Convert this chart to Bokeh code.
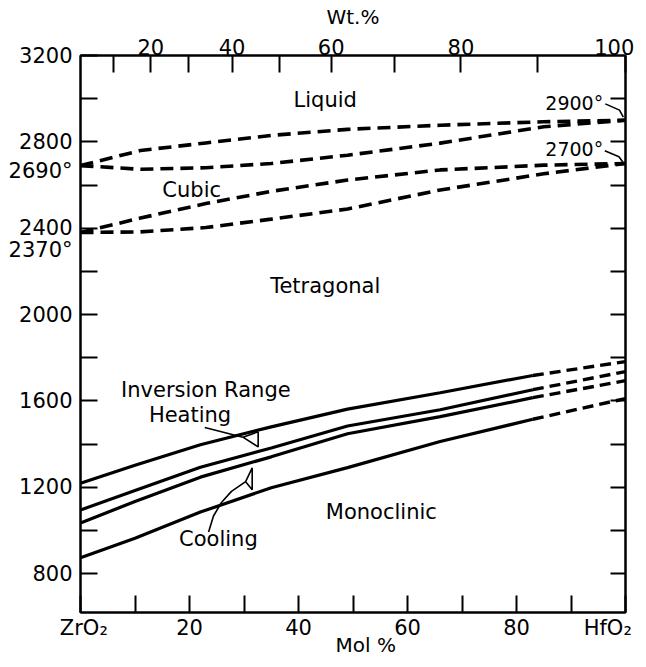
from bokeh.plotting import figure
from bokeh.models import LinearAxis, FixedTicker, Range1d, Label
from bokeh.embed import file_html
from bokeh.resources import INLINE

# ---------------- data (mol % HfO2 vs temperature, deg C) ----------------
MOL = [0, 11, 23, 35, 49, 66, 85, 100]
LIQUIDUS = [2690, 2760, 2795, 2830, 2858, 2877, 2893, 2900]
SOLIDUS = [2690, 2673, 2680, 2700, 2738, 2794, 2870, 2900]
CUBIC_UPPER = [2380, 2447, 2514, 2571, 2623, 2670, 2692, 2700]
CUBIC_LOWER = [2380, 2383, 2403, 2442, 2489, 2577, 2652, 2700]

INV_MOL = [0, 10, 22, 35, 49, 66, 83, 100]
HEAT_START = [1219, 1302, 1397, 1480, 1562, 1638, 1718, 1782]
HEAT_END = [1095, 1185, 1293, 1382, 1484, 1559, 1652, 1736]
COOL_START = [1035, 1134, 1247, 1341, 1448, 1527, 1615, 1694]
COOL_END = [874, 964, 1085, 1198, 1291, 1412, 1515, 1611]
N_SOLID = 7  # inversion curves are measured (solid) up to the 7th point

Y_TICKS = [800, 1000, 1200, 1400, 1600, 1800, 2000, 2200, 2400, 2600, 2800, 3000, 3200]
Y_LABELED = [800, 1200, 1600, 2000, 2400, 2800, 3200]
# melting / transformation points of ZrO2, written beside the left axis
LEFT_NOTES = {2667: "2690°", 2297: "2370°"}
MOL_TICKS = [0, 10, 20, 30, 40, 50, 60, 70, 80, 90, 100]
MOL_LABELED = [20, 40, 60, 80]
END_MEMBERS = {0: "\u00a0ZrO₂", 100: "HfO₂\u00a0"}
WT_VALUES = [10, 20, 30, 40, 50, 60, 70, 80, 90, 100]
WT_TICK_MOL = [6.0, 12.9, 19.8, 27.8, 36.6, 46.0, 57.7, 69.8, 83.8, 100]
WT_LABELED = [20, 40, 60, 80]

# annotation leaders (data units)
HEAT_LEADER = ([22.8, 29.8], [1477, 1432])
HEAT_BRACKET = ([32.6, 29.8, 32.6, 32.6], [1457, 1432, 1387, 1457])
COOL_LEADER = ([23.5, 24.4, 25.9, 27.7, 30.3], [993, 1067, 1131, 1181, 1226])
COOL_BRACKET = ([31.5, 30.3, 31.5, 31.5], [1290, 1226, 1189, 1290])
L2900 = ([96.3, 98.9, 99.6], [2976, 2947, 2915])
L2700 = ([96.2, 98.8, 99.6], [2759, 2731, 2703])

FONT = "DejaVu Sans"
NB = "\u00a0"

p = figure(width=638, height=659, x_range=Range1d(0, 100), y_range=Range1d(620, 3200),
           output_backend="svg", toolbar_location=None,
           x_axis_location=None, y_axis_location=None,
           min_border_left=80, min_border_right=13, min_border_top=55, min_border_bottom=47)
p.grid.visible = False
p.outline_line_color = "black"
p.outline_line_width = 2
p.background_fill_color = "white"
p.border_fill_color = "white"


def style_axis(ax, tick_len, font_size="21px", standoff=6):
    ax.axis_line_color = "black"
    ax.axis_line_width = 2
    ax.major_tick_line_color = "black"
    ax.major_tick_line_width = 2
    ax.major_tick_in = tick_len
    ax.major_tick_out = 0
    ax.minor_tick_in = 0
    ax.minor_tick_out = 0
    ax.major_label_text_font = FONT
    ax.major_label_text_font_size = font_size
    ax.major_label_text_color = "black"
    ax.major_label_standoff = standoff
    ax.axis_label_text_font = FONT
    ax.axis_label_text_font_style = "normal"
    ax.axis_label_text_color = "black"


# left: tick marks every 200 (drawn as minor ticks), labels every 400 + notes
left_major = Y_LABELED + list(LEFT_NOTES.keys())
left_over = {t: str(t) for t in Y_LABELED}
left_over.update(LEFT_NOTES)
left = LinearAxis(ticker=FixedTicker(ticks=left_major, minor_ticks=Y_TICKS),
                  major_label_overrides=left_over)
style_axis(left, 0, standoff=8)
left.major_tick_line_color = None
left.minor_tick_in = 17
left.minor_tick_out = 0
left.minor_tick_line_color = "black"
left.minor_tick_line_width = 2
p.add_layout(left, "left")

right = LinearAxis(ticker=FixedTicker(ticks=Y_TICKS[:-1]))
style_axis(right, 15, font_size="0px", standoff=0)
p.add_layout(right, "right")

bot_over = {t: (str(t) if t in MOL_LABELED else "") for t in MOL_TICKS}
bot_over.update(END_MEMBERS)
bottom = LinearAxis(ticker=FixedTicker(ticks=MOL_TICKS), major_label_overrides=bot_over,
                    axis_label=NB * 4 + "Mol %")
style_axis(bottom, 17, standoff=3)
bottom.axis_label_text_font_size = "20px"
bottom.axis_label_standoff = -10
p.add_layout(bottom, "below")

top_over = {}
for m, w in zip(WT_TICK_MOL, WT_VALUES):
    top_over[m] = str(w) if w in WT_LABELED else ""
top_over[WT_TICK_MOL[-1]] = "100\u2009"
top = LinearAxis(ticker=FixedTicker(ticks=WT_TICK_MOL), major_label_overrides=top_over,
                 axis_label="Wt.%")
style_axis(top, 17, standoff=-4)
top.axis_label_text_font_size = "20px"
top.axis_label_standoff = 4
p.add_layout(top, "above")

# ---------------- phase boundaries ----------------
for ys in (LIQUIDUS, SOLIDUS, CUBIC_UPPER, CUBIC_LOWER):
    p.line(MOL, ys, line_color="black", line_width=3.6, line_dash="13 7", line_cap="butt")

for ys in (HEAT_START, HEAT_END, COOL_START, COOL_END):
    p.line(INV_MOL[:N_SOLID], ys[:N_SOLID], line_color="black", line_width=3.2)
    p.line(INV_MOL[N_SOLID - 1:], ys[N_SOLID - 1:], line_color="black", line_width=3.4,
           line_dash="11 6", line_cap="butt")

for xs, ys in (HEAT_LEADER, HEAT_BRACKET, COOL_LEADER, COOL_BRACKET, L2900, L2700):
    p.line(xs, ys, line_color="black", line_width=1.6)


# ---------------- texts inside the diagram ----------------
def add_label(x, y, text, size="21px", align="center"):
    p.add_layout(Label(x=x, y=y, text=text, text_font=FONT, text_font_size=size,
                       text_align=align, text_baseline="middle", text_color="black"))


add_label(44.9, 2993, "Liquid")
add_label(20.4, 2579, "Cubic")
add_label(44.9, 2131, "Tetragonal")
add_label(23.0, 1652, "Inversion Range")
add_label(20.1, 1533, "Heating")
add_label(25.3, 961, "Cooling")
add_label(55.2, 1087, "Monoclinic")
add_label(90.6, 2982, "2900°", size="19px")
add_label(90.6, 2765, "2700°", size="19px")

open("out.html", "w").write(file_html(p, INLINE))
